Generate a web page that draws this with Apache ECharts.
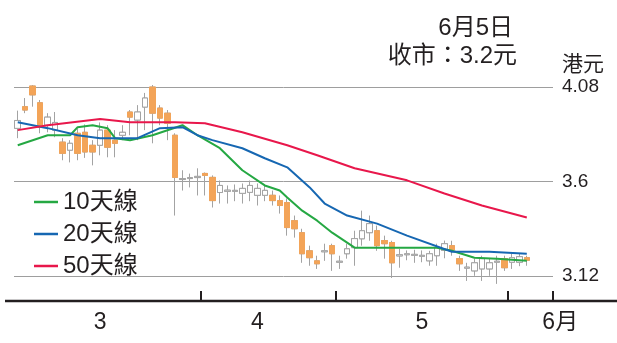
<!DOCTYPE html>
<html><head><meta charset="utf-8">
<script src="https://cdn.jsdelivr.net/npm/echarts@6/dist/echarts.min.js"></script>
<style>html,body{margin:0;padding:0;background:#fff}#c{width:617px;height:343px}</style>
</head><body><div id="c"></div>
<script>
const FONT = "'Liberation Sans','Noto Sans CJK TC',sans-serif";
const TXT = '#231f20';

// trading days per month shown (Mar, Apr, May, Jun) and empty slots at the right
const monthNames = ['3', '4', '5', '6'];
const monthDays = [25, 18, 23, 3];
const padDays = 3;
// x-axis labels and the category index they sit under
const xTickLabels = ['3', '4', '5', '6月'];
const xLabelIdx = [11, 32, 54, 71];
// y-axis ticks
const yTicks = [3.12, 3.6, 4.08];
// annotation
const noteDate = '6月5日';
const noteClose = '收市：3.2元';

// daily candles: [open, close, low, high]
const candles = [
  [3.87,3.91,3.82,3.96],[3.98,3.963,3.947,4.024],[4.085,4.04,3.98,4.09],[4.0,3.876,3.845,4.014],
  [3.886,3.927,3.85,3.947],[3.861,3.90,3.825,3.953],[3.80,3.743,3.708,3.82],[3.759,3.794,3.697,3.81],
  [3.845,3.743,3.708,3.87],[3.85,3.75,3.72,3.89],[3.784,3.75,3.682,3.81],[3.784,3.861,3.733,3.90],
  [3.861,3.774,3.723,3.886],[3.81,3.794,3.723,3.861],[3.835,3.85,3.81,3.886],[3.953,3.927,3.835,3.963],
  [3.912,3.953,3.81,3.988],[3.978,4.024,3.861,4.05],[4.08,3.947,3.794,4.09],[3.973,3.922,3.886,3.988],
  [3.947,3.896,3.81,3.963],[3.835,3.621,3.427,3.845],[3.61,3.615,3.554,3.657],[3.615,3.62,3.57,3.64],
  [3.62,3.626,3.529,3.667],[3.641,3.631,3.529,3.646],[3.621,3.503,3.468,3.631],[3.544,3.58,3.488,3.605],
  [3.55,3.556,3.488,3.58],[3.55,3.555,3.50,3.585],[3.54,3.565,3.488,3.59],[3.545,3.58,3.50,3.605],
  [3.53,3.565,3.478,3.59],[3.53,3.555,3.50,3.58],[3.53,3.503,3.478,3.554],[3.503,3.478,3.437,3.529],
  [3.493,3.366,3.325,3.514],[3.401,3.36,3.315,3.427],[3.34,3.233,3.187,3.36],[3.248,3.213,3.172,3.274],
  [3.197,3.182,3.156,3.223],[3.243,3.248,3.197,3.284],[3.274,3.233,3.146,3.284],[3.19,3.195,3.156,3.223],
  [3.233,3.258,3.208,3.284],[3.264,3.31,3.172,3.35],[3.309,3.35,3.274,3.452],[3.34,3.386,3.299,3.427],
  [3.35,3.274,3.248,3.376],[3.30,3.284,3.208,3.325],[3.29,3.187,3.11,3.299],[3.222,3.228,3.162,3.258],
  [3.228,3.233,3.20,3.25],[3.225,3.23,3.187,3.253],[3.22,3.225,3.19,3.25],[3.197,3.233,3.172,3.248],
  [3.223,3.264,3.172,3.284],[3.25,3.284,3.21,3.30],[3.274,3.253,3.223,3.299],[3.208,3.182,3.146,3.223],
  [3.16,3.165,3.095,3.187],[3.146,3.187,3.121,3.208],[3.156,3.208,3.095,3.223],[3.156,3.187,3.121,3.208],
  [3.19,3.195,3.08,3.223],[3.208,3.162,3.146,3.223],[3.19,3.213,3.156,3.233],[3.19,3.218,3.17,3.233],
  [3.213,3.20,3.172,3.223]
];

// moving averages, read at their visible vertices: [day index, value]
const ma10 = [[0,3.784],[4,3.835],[7,3.835],[8,3.876],[10,3.886],[12,3.871],[13,3.82],[15,3.81],[18,3.835],
  [22,3.886],[24,3.835],[27,3.769],[30,3.657],[33,3.58],[35,3.554],[36,3.519],[38,3.452],[40,3.401],
  [42,3.34],[43,3.315],[45,3.264],[56,3.264],[58,3.248],[61,3.213],[64,3.208],[68,3.197]];
const ma20 = [[0,3.901],[4,3.871],[8,3.835],[11,3.82],[16,3.82],[19,3.871],[22,3.876],[24,3.835],[26,3.81],
  [30,3.769],[33,3.718],[36,3.672],[39,3.57],[41,3.488],[44,3.427],[48,3.386],[52,3.325],[58,3.243],
  [63,3.243],[68,3.233]];
const ma50 = [[0,3.861],[4,3.886],[11,3.917],[15,3.901],[21,3.901],[25,3.896],[30,3.85],[36,3.784],
  [40,3.733],[45,3.667],[52,3.606],[57,3.539],[62,3.478],[68,3.417]];

const seriesNames = ['10天線', '20天線', '50天線'];
const seriesColors = ['#25a843', '#1667b2', '#e8174b'];

// build categories
const categories = [];
const boundaries = [];
let acc = 0;
monthDays.forEach((n, m) => {
  if (m > 0) boundaries.push(acc);
  for (let d = 0; d < n; d++) categories.push(monthNames[m] + '-' + (d + 1));
  acc += n;
});
for (let p = 0; p < padDays; p++) categories.push('pad' + p);

const bodies = candles.map(c => [c[0], c[1], Math.min(c[0], c[1]), Math.max(c[0], c[1])]);

const titleStyle = {fontSize: 24, fontWeight: 'normal', color: TXT, fontFamily: FONT};
const chart = echarts.init(document.getElementById('c'), null, {renderer: 'canvas'});
chart.setOption({
  animation: false,
  backgroundColor: '#fff',
  textStyle: {fontFamily: FONT},
  title: [
    {text: noteDate, right: 104, top: 16, padding: 0, textStyle: titleStyle},
    {text: noteClose, right: 100, top: 44, padding: 0, textStyle: titleStyle}
  ],
  legend: {
    data: seriesNames,
    orient: 'vertical', left: 34, top: 190, itemGap: 8, padding: 0,
    icon: 'rect', itemWidth: 24, itemHeight: 2.5,
    textStyle: {fontSize: 24, color: TXT, fontFamily: FONT}
  },
  grid: {left: 14, right: 64, top: 87, bottom: 67, containLabel: false},
  xAxis: {
    type: 'category', data: categories, boundaryGap: true, offset: 25,
    axisLine: {show: false},
    axisTick: {show: true, inside: true, length: 10, interval: (i) => boundaries.includes(i),
      lineStyle: {color: TXT, width: 2}},
    axisLabel: {
      interval: (i) => xLabelIdx.includes(i), margin: 10,
      formatter: (v, i) => {
        const k = xLabelIdx.indexOf(i);
        if (k < 0) return '';
        return k === xLabelIdx.length - 1 ? '{m|' + xTickLabels[k] + '}' : xTickLabels[k];
      },
      fontSize: 23, color: TXT, fontFamily: FONT,
      rich: {m: {fontSize: 23, color: TXT, fontFamily: FONT, padding: [0, 0, 0, 22]}}
    },
    splitLine: {show: false}
  },
  yAxis: {
    type: 'value', position: 'right', min: yTicks[0], max: yTicks[yTicks.length - 1],
    interval: yTicks[1] - yTicks[0], scale: true,
    name: '港元', nameLocation: 'end', nameGap: 11,
    nameTextStyle: {fontSize: 21, color: TXT, fontFamily: FONT, align: 'left', padding: [0, 0, 0, 9]},
    axisLine: {show: false}, axisTick: {show: false},
    axisLabel: {margin: 9, fontSize: 19, color: TXT, fontFamily: FONT,
      formatter: (v) => String(+v.toFixed(2))},
    splitLine: {show: true, lineStyle: {color: '#9e9e9e', width: 1}}
  },
  graphic: [{
    type: 'line', silent: true,
    shape: {x1: 5, y1: 301, x2: 617, y2: 301},
    style: {stroke: TXT, lineWidth: 2.5}
  }],
  series: [
    {type: 'candlestick', name: 'wick', data: candles, barWidth: 6, clip: false,
      itemStyle: {color: '#a3a3a3', color0: '#a3a3a3', borderColor: '#a3a3a3', borderColor0: '#a3a3a3', borderWidth: 1}},
    {type: 'candlestick', name: 'body', data: bodies, barWidth: 6, clip: false,
      itemStyle: {color: '#ffffff', color0: '#f3a458', borderColor: '#a3a3a3', borderColor0: '#f3a458', borderWidth: 1}},
    {type: 'line', name: seriesNames[0], data: ma10, symbol: 'none', connectNulls: true,
      lineStyle: {color: seriesColors[0], width: 2}, itemStyle: {color: seriesColors[0]}},
    {type: 'line', name: seriesNames[1], data: ma20, symbol: 'none', connectNulls: true,
      lineStyle: {color: seriesColors[1], width: 2}, itemStyle: {color: seriesColors[1]}},
    {type: 'line', name: seriesNames[2], data: ma50, symbol: 'none', connectNulls: true,
      lineStyle: {color: seriesColors[2], width: 2}, itemStyle: {color: seriesColors[2]}}
  ]
});
</script></body></html>
